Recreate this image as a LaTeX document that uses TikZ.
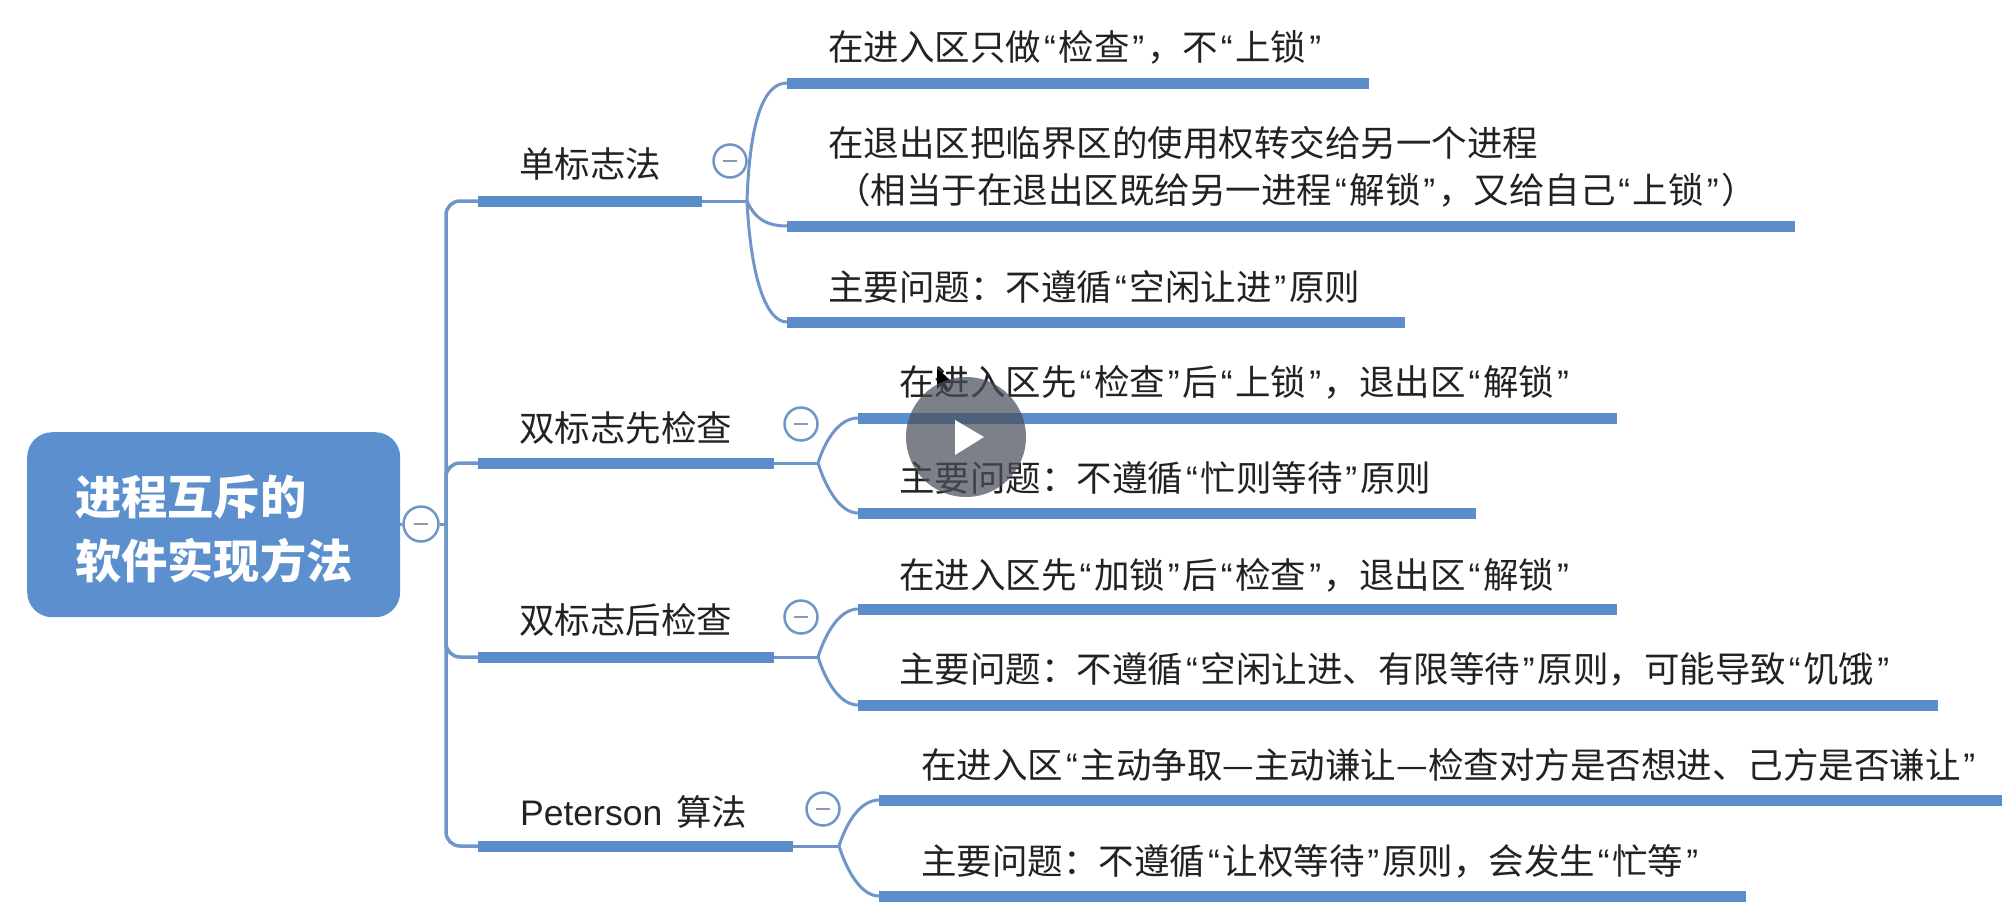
\documentclass[tikz,border=0pt]{standalone}
\usepackage{fontspec}
\usetikzlibrary{backgrounds}
\setmainfont{Noto Sans CJK SC}
\newfontfamily\qf{Liberation Sans}
\newfontfamily\pf{Liberation Sans}
\catcode`“=13 \catcode`”=13
\def“{{\qf\kern2.8pt\char"201C\kern2.8pt}}
\def”{{\qf\kern2.8pt\char"201D\kern2.8pt}}
\definecolor{barblue}{HTML}{5B8DCB}
\definecolor{linkblue}{HTML}{7095C8}
\definecolor{rootblue}{HTML}{5C8FCD}
\definecolor{ink}{HTML}{222222}
\definecolor{minusgray}{HTML}{8C99AC}
\definecolor{playgray}{HTML}{4A4F5C}
\tikzset{
  x=1pt,y=-1pt,
  bar/.style={rectangle,fill=barblue,inner sep=0pt,minimum height=11pt,anchor=west},
  link/.style={draw=linkblue,line width=3pt},
  stem/.style={draw=linkblue,line width=3.5pt,rounded corners=14pt},
  txt/.style={anchor=west,inner sep=0pt,text=ink,font=\fontsize{35.5}{47}\selectfont,align=left},
  collapse/.style={circle,draw=linkblue,line width=2.5pt,fill=white,minimum size=33pt,inner sep=0pt,
    path picture={\draw[minusgray,line width=2.5pt]([xshift=-7pt]path picture bounding box.center)--([xshift=7pt]path picture bounding box.center);}},
}
\begin{document}
\begin{tikzpicture}
\useasboundingbox (0,0) rectangle (2016,916);
% root
\node[rectangle,rounded corners=25pt,fill=rootblue,minimum width=373pt,minimum height=185pt,inner sep=0pt,anchor=north west] (root) at (27,432) {};
\node[anchor=west,inner sep=0pt,text=white,align=left,font=\fontsize{46.2}{64}\selectfont\bfseries] (roott) at (75,529) {进程互斥的\\软件实现方法};
\node[collapse,minimum size=35pt] (rc) at (421,524) {};
\coordinate (trunk) at (446,524);
% level 1 bars
\node[bar,minimum width=224pt] (a) at (478,201) {};
\node[bar,minimum width=296pt] (b) at (478,463) {};
\node[bar,minimum width=296pt] (c) at (478,657) {};
\node[bar,minimum width=315pt] (d) at (478,846) {};
\node[txt] (at) at (519,164) {单标志法};
\node[txt] (bt) at (519,428) {双标志先检查};
\node[txt] (ct) at (519,620) {双标志后检查};
\node[txt] (dt) at (520,812) {{\pf Peterson}\kern14pt 算法};
\node[collapse] (ac) at (730,161) {};
\node[collapse] (bc) at (801,424) {};
\node[collapse] (cc) at (801,617) {};
\node[collapse] (dc) at (823,809) {};
\coordinate (aj) at (747,201);
\coordinate (bj) at (818,463);
\coordinate (cj) at (818,657);
\coordinate (dj) at (839,846);
% level 2 bars
\node[bar,minimum width=582pt] (a1) at (787,83) {};
\node[bar,minimum width=1008pt] (a2) at (787,226) {};
\node[bar,minimum width=618pt] (a3) at (787,322) {};
\node[bar,minimum width=759pt] (b1) at (858,418) {};
\node[bar,minimum width=618pt] (b2) at (858,513) {};
\node[bar,minimum width=759pt] (c1) at (858,609) {};
\node[bar,minimum width=1080pt] (c2) at (858,705) {};
\node[bar,minimum width=1123pt] (d1) at (879,800) {};
\node[bar,minimum width=867pt] (d2) at (879,896) {};
% texts
\node[txt] (a1t) at (828,47) {在进入区只做“检查”，不“上锁”};
\node[txt] (a2t) at (828,167) {在退出区把临界区的使用权转交给另一个进程\\\hspace*{7pt}（相当于在退出区既给另一进程“解锁”，又给自己“上锁”）};
\node[txt] (a3t) at (828,287) {主要问题：不遵循“空闲让进”原则};
\node[txt] (b1t) at (899,382) {在进入区先“检查”后“上锁”，退出区“解锁”};
\node[txt] (b2t) at (899,478) {主要问题：不遵循“忙则等待”原则};
\node[txt] (c1t) at (899,575) {在进入区先“加锁”后“检查”，退出区“解锁”};
\node[txt] (c2t) at (899,669) {主要问题：不遵循“空闲让进、有限等待”原则，可能导致“饥饿”};
\node[txt] (d1t) at (921,765) {在进入区“主动争取—主动谦让—检查对方是否想进、己方是否谦让”};
\node[txt] (d2t) at (921,861) {主要问题：不遵循“让权等待”原则，会发生“忙等”};
% connectors
\begin{scope}[on background layer]
\draw[link] (root.east |- rc) -- (rc) -- (trunk);
\draw[stem] (trunk) |- (a.west);
\draw[stem] (trunk) |- (b.west);
\draw[stem] (trunk) |- (c.west);
\draw[stem] (trunk) |- (d.west);
\draw[link] (a.east) -- (aj);
\draw[link] (b.east) -- (bj);
\draw[link] (c.east) -- (cj);
\draw[link] (d.east) -- (dj);
\draw[link] (aj) .. controls +(3,-85) and +(-22,0) .. (a1.west);
\draw[link] (aj) .. controls +(8,18) and +(-20,0) .. (a2.west);
\draw[link] (aj) .. controls +(4,80) and +(-20,0) .. (a3.west);
\draw[link] (bj) .. controls +(8,-25) and +(-18,0) .. (b1.west);
\draw[link] (bj) .. controls +(8,25) and +(-18,0) .. (b2.west);
\draw[link] (cj) .. controls +(8,-25) and +(-18,0) .. (c1.west);
\draw[link] (cj) .. controls +(8,25) and +(-18,0) .. (c2.west);
\draw[link] (dj) .. controls +(8,-25) and +(-18,0) .. (d1.west);
\draw[link] (dj) .. controls +(8,25) and +(-18,0) .. (d2.west);
\end{scope}
% video overlay
\fill[black] (937,368) -- (937,389) -- (942,384) -- (946,392) -- (949,390) -- (945,383) -- (952,382) -- cycle;
\fill[fill=playgray,fill opacity=.72] (966,437) circle (60);
\fill[white] (955,420) -- (984,437) -- (955,455) -- cycle;
\end{tikzpicture}
\end{document}
